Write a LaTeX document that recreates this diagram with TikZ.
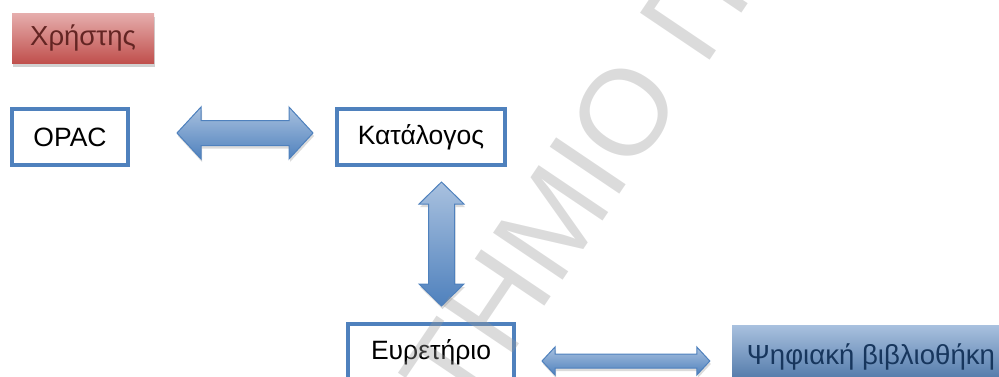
\documentclass[tikz,border=0pt]{standalone}
\usepackage{fontspec}
\setmainfont{Liberation Sans}
\usetikzlibrary{calc}
\definecolor{cblue}{HTML}{4F81BD}
\definecolor{clight}{HTML}{A9C1DF}
\definecolor{cred}{HTML}{C0504D}
\definecolor{cpink}{HTML}{E6AEAD}
\definecolor{cdarkred}{HTML}{632523}
\definecolor{cnavy}{HTML}{17365D}
\tikzset{
  every picture/.style={x=1pt, y=1pt, font=\fontsize{26.5}{30}\selectfont},
  frame/.style={draw=cblue, fill=white, line width=4pt, minimum height=56pt, inner sep=0pt},
  userbox/.style={top color=cpink, bottom color=cred, text=cdarkred, minimum width=142pt, minimum height=50pt,
    font=\fontsize{27.5}{30}\selectfont, preaction={fill=black!18, transform canvas={shift={(1pt,-4pt)}}}},
  libbox/.style={top color=clight, bottom color=cblue!85!black, text=cnavy, minimum width=278pt, minimum height=64pt,
    font=\fontsize{27.6}{30}\selectfont},
  blockarrow/.style={draw=cblue, line width=1pt, top color=clight, bottom color=cblue,
    preaction={fill=black!14, transform canvas={shift={(1pt,-3pt)}}}},
  watermark/.style={font=\fontsize{122}{122}\selectfont, text=black!40, text opacity=0.35, inner sep=0pt},
}
% #1 tip, #2 other tip, #3 half shaft, #4 half head, #5 head length
\newcommand{\blockarrow}[5]{%
  \path[blockarrow] (#1) -- ++(#5,#4) -- ++(0,#3-#4) -- ($(#2)+(-#5,#3)$) -- ++(0,#4-#3) -- (#2)
    -- ++(-#5,-#4) -- ++(0,#4-#3) -- ($(#1)+(#5,-#3)$) -- ++(0,#3-#4) -- cycle;
}

\begin{document}
\begin{tikzpicture}
  \useasboundingbox (0,0) rectangle (999,376);
  % boxes
  \node[userbox] (user) at (83,338) {Χρήστης};
  \node[frame, minimum width=116pt] (opac) at (70,239) {OPAC};
  \node[frame, minimum width=168pt] (cat) at (421,239) {Κατάλογος};
  \node[frame, minimum width=166pt] (eur) at (431,24) {Ευρετήριο};
  \node[libbox] (dig) at (871,19) {Ψηφιακή βιβλιοθήκη};
  % arrow tips
  \coordinate (a1) at ($(opac.east)+(47,4)$);
  \coordinate (b1) at ($(cat.west)+(-22,4)$);
  \coordinate (a2) at ($(cat.south)+(20.5,-15)$);
  \coordinate (b2) at ($(eur.north)+(10.5,16)$);
  \coordinate (a3) at ($(eur.east)+(26,-9)$);
  \coordinate (b3) at ($(dig.west)+(-22,-4)$);
  \blockarrow{a1}{b1}{12.5}{26}{24}
  \begin{scope}[x={(0,-1pt)}, y={(1pt,0)}]
    \blockarrow{a2}{b2}{13}{22.5}{22}
  \end{scope}
  \blockarrow{a3}{b3}{7}{14}{13}
  % watermark
  \node[watermark, anchor=base west, rotate=56] (wm) at (466,-47) {ΤΗΜΙΟ Π};
\end{tikzpicture}
\end{document}
